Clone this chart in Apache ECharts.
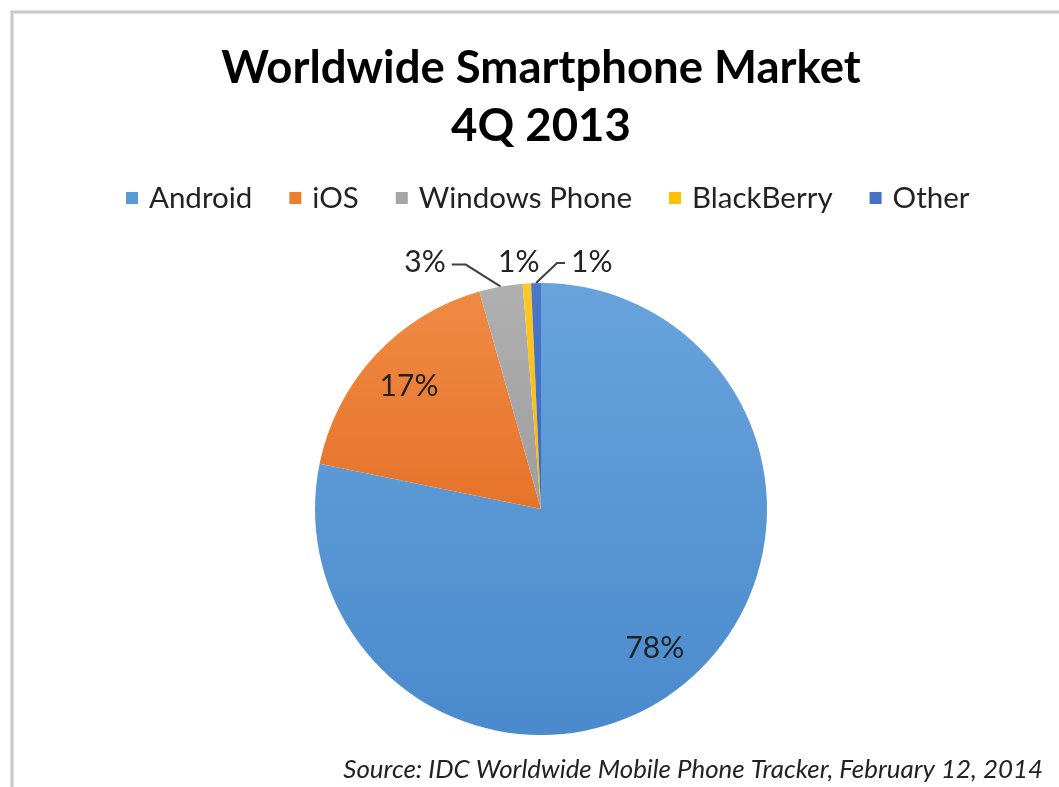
<!DOCTYPE html>
<html>
<head>
<meta charset="utf-8">
<script src="https://cdn.jsdelivr.net/npm/echarts@6/dist/echarts.min.js"></script>
<style>
html,body{margin:0;padding:0;background:#fff;}
#chart{width:1059px;height:787px;}
</style>
</head>
<body>
<div id="chart"></div>
<script>
const categories = ['Android', 'iOS', 'Windows Phone', 'BlackBerry', 'Other'];
const shares = [78.2, 17.4, 3.1, 0.6, 0.7];
const colorsTop = ['#68a3dc', '#f08a43', '#b0b0b0', '#ffc829', '#4a78c8'];
const colorsBottom = ['#4a8acd', '#e6732a', '#9e9e9e', '#f5b800', '#3d68b8'];
const legendColors = ['#5b9bd5', '#ed7d31', '#a5a5a5', '#ffc000', '#4472c4'];
const titleLines = ['Worldwide Smartphone Market', '4Q 2013'];
const sourceText = 'Source: IDC Worldwide Mobile Phone Tracker, February 12, 2014';

const FONT = 'Lato';
const CENTER = [541, 509];
const RADIUS = 226;
// leader-line bends (relative to the point on the slice edge) for the small outside labels
const leaderBend = {2: [-35, -22, -14], 3: null, 4: [21, -20, 8]};
const labelAbovePie = 21;

const chart = echarts.init(document.getElementById('chart'), null, {renderer: 'canvas'});

function grad(i) {
  return new echarts.graphic.LinearGradient(0, 0, 0, 1, [
    {offset: 0, color: colorsTop[i]},
    {offset: 1, color: colorsBottom[i]}
  ]);
}
const total = shares.reduce((a, b) => a + b, 0);
const pct = v => Math.round(v / total * 100) + '%';

const mainData = categories.map((name, i) => ({
  name, value: shares[i],
  itemStyle: {color: grad(i)},
  label: {show: i >= 2},
  labelLine: {show: i >= 2}
}));
const innerLabelData = categories.map((name, i) => ({
  name, value: shares[i],
  label: {show: i < 2}
}));

function layoutSmall(params) {
  if (params.seriesIndex !== 0 || !params.labelLinePoints) return {};
  const p0 = params.labelLinePoints[0];
  const y = CENTER[1] - RADIUS - labelAbovePie;
  const b = leaderBend[params.dataIndex];
  if (!b) {
    return {x: p0[0] - 8, y: y, align: 'center', verticalAlign: 'middle',
            labelLinePoints: [p0, p0, p0]};
  }
  const p1 = [p0[0] + b[0], p0[1] + b[1]];
  const p2 = [p1[0] + b[2], p1[1]];
  const dir = b[2] < 0 ? -1 : 1;
  return {
    x: p2[0] + dir * 6, y: y,
    align: dir < 0 ? 'right' : 'left', verticalAlign: 'middle',
    labelLinePoints: [p0, p1, p2]
  };
}

chart.setOption({
  backgroundColor: '#ffffff',
  animation: false,
  title: {
    text: titleLines.join('\n'),
    left: 536, top: 34, textAlign: 'center',
    textStyle: {fontFamily: FONT, fontWeight: 'bold', fontSize: 45.5, lineHeight: 58, color: '#000'}
  },
  legend: {
    data: categories.map((n, i) => ({name: n, itemStyle: {color: legendColors[i]}})),
    top: 178, left: 121,
    icon: 'rect', itemWidth: 12, itemHeight: 12, itemGap: 37,
    textStyle: {fontFamily: FONT, fontSize: 29.5, color: '#222', padding: [0, 0, 0, 6]}
  },
  graphic: [
    {type: 'rect', shape: {x: 12, y: 12, width: 1100, height: 800}, style: {fill: 'none', stroke: '#c8c8c8', lineWidth: 3}, silent: true},
    {type: 'text', right: 16, top: 757, style: {text: sourceText, font: 'italic 25.9px ' + FONT, fill: '#222'}}
  ],
  series: [
    {
      type: 'pie', center: CENTER, radius: [0, RADIUS],
      startAngle: 90, clockwise: true,
      data: mainData,
      avoidLabelOverlap: false,
      label: {
        position: 'outside', formatter: p => pct(p.value),
        fontFamily: FONT, fontSize: 30, color: '#222'
      },
      labelLine: {length: 10, length2: 14, lineStyle: {color: '#404040', width: 2}},
      labelLayout: layoutSmall,
      emphasis: {disabled: true}
    },
    {
      type: 'pie', center: CENTER, radius: [0, 354],
      startAngle: 90, clockwise: true, silent: true,
      data: innerLabelData,
      itemStyle: {color: 'rgba(0,0,0,0)'},
      label: {position: 'inside', formatter: p => pct(p.value), fontFamily: FONT, fontSize: 30, color: '#222'},
      labelLine: {show: false},
      emphasis: {disabled: true}
    }
  ]
});
</script>
</body>
</html>
